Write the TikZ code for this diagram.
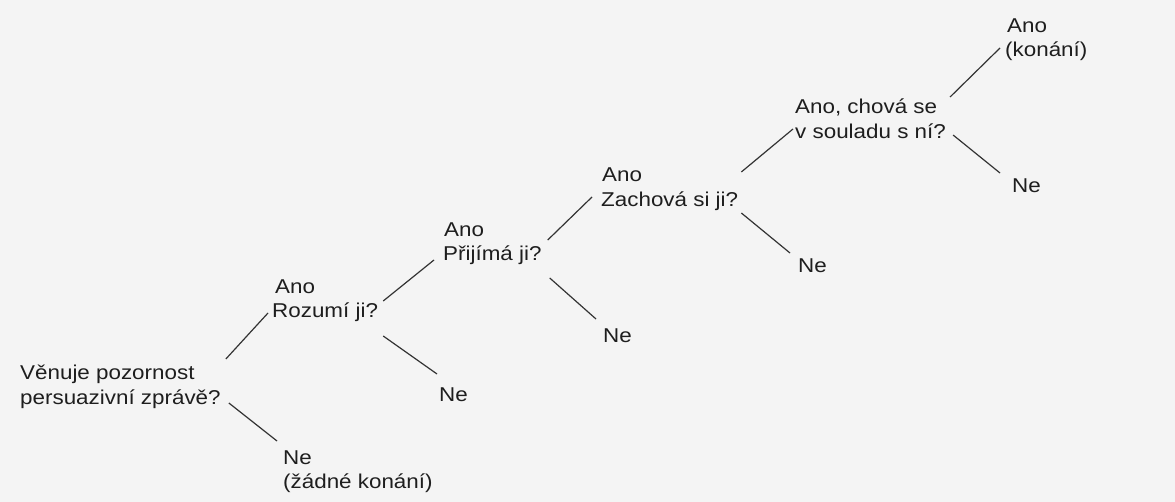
\documentclass[tikz,border=0pt]{standalone}
\usepackage{fontspec}
\setmainfont[FakeStretch=1.12]{Liberation Sans}
\usetikzlibrary{calc}
\definecolor{ink}{HTML}{1E1E1E}
\definecolor{wire}{HTML}{333333}
\definecolor{paper}{HTML}{F4F4F4}
\begin{document}
\begin{tikzpicture}[x=1pt,y=-1pt,
  lbl/.style={anchor=base west,inner sep=0pt,text height=15pt,text depth=5pt,
    font=\fontsize{20pt}{24pt}\selectfont,text=ink},
  wireline/.style={draw=wire,line width=1.2pt}]
\fill[paper] (0,0) rectangle (1175,502);
\useasboundingbox (0,0) rectangle (1175,502);
% labels
\node[lbl] (n1a) at (20,379) {Věnuje pozornost};
\node[lbl] (n1b) at (20,404) {persuazivní zprávě?};
\node[lbl] (n2a) at (275,294) {Ano};
\node[lbl] (n2b) at (272,318) {Rozumí ji?};
\node[lbl] (n3a) at (283,464) {Ne};
\node[lbl] (n3b) at (283,488) {(žádné konání)};
\node[lbl] (n4a) at (444,237) {Ano};
\node[lbl] (n4b) at (443,261) {Přijímá ji?};
\node[lbl] (n5) at (439,401) {Ne};
\node[lbl] (n6a) at (602,182) {Ano};
\node[lbl] (n6b) at (601,207) {Zachová si ji?};
\node[lbl] (n7) at (603,343) {Ne};
\node[lbl] (n8a) at (795,114) {Ano, chová se};
\node[lbl] (n8b) at (795,139) {v souladu s ní?};
\node[lbl] (n9) at (798,273) {Ne};
\node[lbl] (n10a) at (1007,33) {Ano};
\node[lbl] (n10b) at (1005,57) {(konání)};
\node[lbl] (n11) at (1012,193) {Ne};
% connectors
\draw[wireline] ([shift={(5,-40)}]n1b.east) -- ([shift={(-4,0)}]n2b.west);
\draw[wireline] ([shift={(8,4)}]n1b.east) -- ([shift={(-6,-18)}]n3a.west);
\draw[wireline] ([shift={(5,-12)}]n2b.east) -- ([shift={(-9,4)}]n4b.west);
\draw[wireline] ([shift={(5,23)}]n2b.east) -- ([shift={(-2,-22)}]n5.west);
\draw[wireline] ([shift={(6,-16)}]n4b.east) -- ([shift={(-9,-5)}]n6b.west);
\draw[wireline] ([shift={(8,22)}]n4b.east) -- ([shift={(-7,-19)}]n7.west);
\draw[wireline] ([shift={(3,-30)}]n6b.east) -- ([shift={(-2,-5)}]n8b.west);
\draw[wireline] ([shift={(3,11)}]n6b.east) -- ([shift={(-8,-15)}]n9.west);
\draw[wireline] ([shift={(4,-37)}]n8b.east) -- ([shift={(-5,-4)}]n10b.west);
\draw[wireline] ([shift={(7,1)}]n8b.east) -- ([shift={(-12,-15)}]n11.west);
\end{tikzpicture}
\end{document}
